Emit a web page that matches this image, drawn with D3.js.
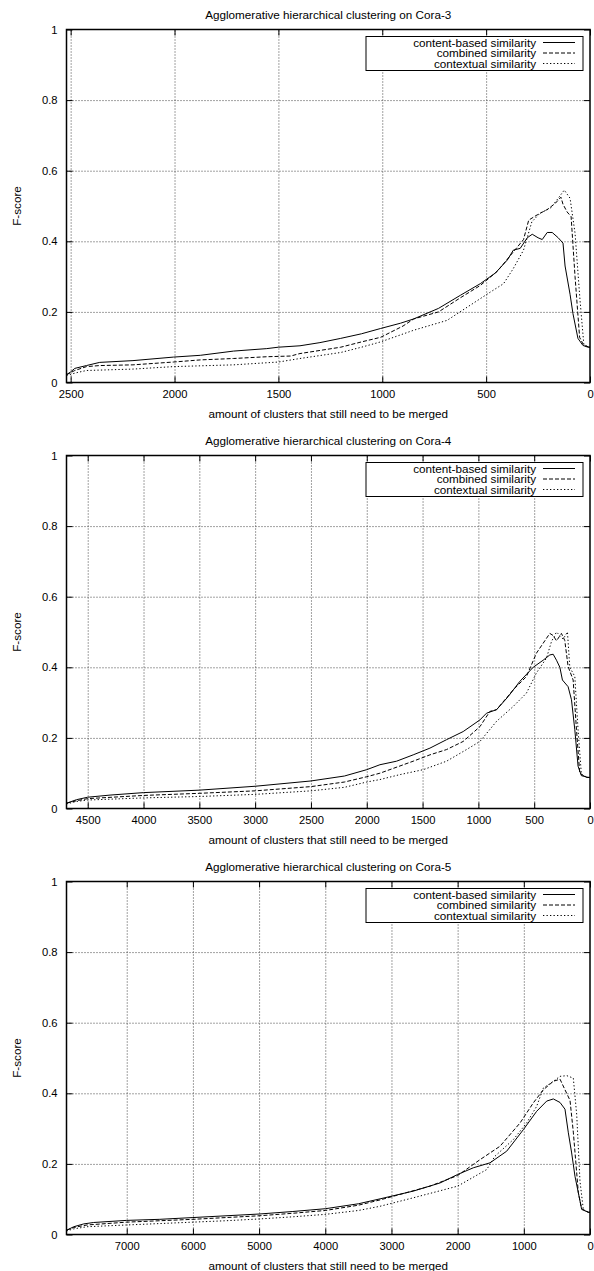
<!DOCTYPE html>
<html>
<head>
<meta charset="utf-8">
<script src="https://cdn.jsdelivr.net/npm/d3@7"></script>
<style>
  body { margin: 0; background: #fff; }
  svg { display: block; font-family: "Liberation Sans", Arial, sans-serif; }
  .tick text { font-size: 11.2px; fill: #000; }
  .grid line { stroke: #444; stroke-dasharray: 1,2; }
  .grid path { display: none; }
</style>
</head>
<body>
<script>
// chart titles and x domains (clusters left to merge)
var titles = [
  "Agglomerative hierarchical clustering on Cora-3",
  "Agglomerative hierarchical clustering on Cora-4",
  "Agglomerative hierarchical clustering on Cora-5"
];
var xMax = [2520, 4690, 7910];
var xTicks = [
  [2500, 2000, 1500, 1000, 500, 0],
  [4500, 4000, 3500, 3000, 2500, 2000, 1500, 1000, 500, 0],
  [7000, 6000, 5000, 4000, 3000, 2000, 1000, 0]
];
var yTicks = [0, 0.2, 0.4, 0.6, 0.8, 1];
var seriesNames = ["content-based similarity", "combined similarity", "contextual similarity"];

// Cora-3
var cora3Content = [[2520,0.022],[2500,0.03],[2480,0.04],[2424,0.048],[2360,0.057],[2200,0.062],[2005,0.072],[1876,0.077],[1716,0.089],[1556,0.096],[1500,0.10],[1396,0.104],[1300,0.113],[1200,0.125],[1100,0.138],[1008,0.153],[912,0.168],[849,0.18],[729,0.21],[624,0.247],[528,0.28],[456,0.31],[398,0.347],[369,0.375],[336,0.38],[302,0.41],[278,0.42],[250,0.41],[230,0.405],[206,0.425],[182,0.425],[153,0.41],[130,0.395],[120,0.33],[96,0.25],[82,0.195],[58,0.125],[34,0.105],[10,0.10],[0,0.10]];
var cora3Combined = [[2520,0.022],[2480,0.034],[2424,0.045],[2360,0.048],[2200,0.05],[2005,0.058],[1876,0.064],[1716,0.068],[1556,0.073],[1440,0.075],[1410,0.08],[1396,0.082],[1200,0.10],[1100,0.115],[1008,0.128],[900,0.16],[849,0.18],[729,0.20],[624,0.24],[528,0.275],[446,0.315],[369,0.37],[320,0.405],[295,0.46],[254,0.475],[206,0.49],[168,0.507],[140,0.525],[130,0.505],[110,0.483],[91,0.47],[72,0.30],[50,0.128],[30,0.105],[0,0.10]];
var cora3Contextual = [[2520,0.02],[2470,0.028],[2424,0.034],[2200,0.038],[2005,0.045],[1716,0.05],[1500,0.058],[1396,0.068],[1200,0.085],[1100,0.10],[1008,0.115],[849,0.148],[688,0.176],[592,0.213],[480,0.256],[416,0.28],[369,0.323],[320,0.375],[280,0.455],[240,0.48],[190,0.494],[153,0.522],[124,0.545],[96,0.522],[72,0.423],[48,0.233],[30,0.11],[10,0.10],[0,0.10]];

// Cora-4
var cora4Content = [[4690,0.015],[4600,0.025],[4500,0.032],[4300,0.038],[4000,0.045],[3500,0.052],[3000,0.063],[2500,0.078],[2200,0.092],[2000,0.11],[1882,0.124],[1733,0.134],[1584,0.152],[1434,0.171],[1285,0.195],[1136,0.218],[986,0.251],[927,0.27],[837,0.28],[733,0.317],[629,0.36],[509,0.40],[420,0.42],[360,0.435],[330,0.437],[300,0.42],[270,0.40],[247,0.364],[196,0.345],[166,0.308],[136,0.223],[107,0.12],[77,0.093],[17,0.088],[0,0.088]];
var cora4Combined = [[4690,0.015],[4600,0.022],[4500,0.028],[4000,0.037],[3500,0.043],[3000,0.05],[2500,0.062],[2200,0.075],[2000,0.09],[1882,0.10],[1584,0.134],[1434,0.152],[1285,0.167],[1136,0.19],[986,0.232],[897,0.275],[837,0.28],[688,0.336],[569,0.374],[480,0.44],[420,0.468],[360,0.496],[330,0.49],[300,0.475],[256,0.496],[226,0.476],[196,0.402],[151,0.364],[121,0.223],[92,0.10],[30,0.088],[0,0.088]];
var cora4Contextual = [[4690,0.013],[4600,0.02],[4500,0.024],[4000,0.03],[3500,0.034],[3000,0.04],[2500,0.05],[2200,0.06],[2000,0.075],[1882,0.082],[1703,0.096],[1494,0.11],[1285,0.134],[1106,0.167],[986,0.19],[837,0.247],[688,0.289],[569,0.327],[480,0.384],[390,0.426],[345,0.473],[300,0.50],[241,0.48],[202,0.50],[181,0.40],[136,0.374],[107,0.223],[77,0.096],[20,0.088],[0,0.088]];

// Cora-5
var cora5Content = [[7910,0.012],[7800,0.022],[7650,0.03],[7500,0.034],[7000,0.04],[6500,0.043],[6000,0.048],[5500,0.053],[5000,0.058],[4500,0.065],[4000,0.073],[3500,0.087],[3172,0.101],[2669,0.123],[2266,0.146],[2000,0.17],[1763,0.189],[1511,0.203],[1259,0.236],[1007,0.297],[806,0.349],[654,0.378],[554,0.384],[453,0.374],[378,0.355],[327,0.288],[277,0.231],[227,0.165],[176,0.118],[126,0.071],[25,0.063],[0,0.063]];
var cora5Combined = [[7910,0.012],[7800,0.02],[7600,0.027],[7000,0.035],[6500,0.039],[6000,0.043],[5500,0.048],[5000,0.053],[4500,0.06],[4000,0.068],[3500,0.083],[3172,0.098],[2417,0.137],[2000,0.167],[1662,0.212],[1360,0.25],[1057,0.316],[856,0.373],[705,0.41],[554,0.434],[453,0.44],[378,0.41],[302,0.38],[252,0.29],[176,0.118],[126,0.073],[25,0.063],[0,0.063]];
var cora5Contextual = [[7910,0.01],[7800,0.016],[7600,0.022],[7000,0.027],[6500,0.031],[6000,0.035],[5500,0.039],[5000,0.044],[4500,0.05],[4000,0.057],[3500,0.068],[3172,0.08],[2669,0.104],[2000,0.137],[1561,0.184],[1435,0.222],[1158,0.269],[957,0.316],[806,0.363],[705,0.415],[554,0.434],[453,0.448],[352,0.45],[252,0.443],[201,0.34],[151,0.15],[100,0.07],[25,0.063],[0,0.063]];

var panelData = [
  [cora3Content, cora3Combined, cora3Contextual],
  [cora4Content, cora4Combined, cora4Contextual],
  [cora5Content, cora5Combined, cora5Contextual]
];
var dashes = ["none", "4,2", "1.3,2.2"];

var width = 594, height = 1271,
  panelH = 426,
  plotL = 66.5, plotR = 590,
  plotT = 29.5, plotB = 382.5;

var svg = d3.select("body").append("svg")
  .attr("width", width)
  .attr("height", height);

panelData.forEach(function (series, i) {
  var g = svg.append("g")
    .attr("transform", "translate(0," + (i * panelH) + ")");

  var x = d3.scaleLinear().domain([xMax[i], 0]).range([plotL, plotR]);
  var y = d3.scaleLinear().domain([0, 1]).range([plotB, plotT]);

  // dotted grid
  g.append("g").attr("class", "grid")
    .attr("transform", "translate(0," + plotB + ")")
    .call(d3.axisBottom(x).tickValues(xTicks[i].filter(function (t) { return t > 0; }))
      .tickSize(-(plotB - plotT)).tickFormat(""));
  g.append("g").attr("class", "grid")
    .attr("transform", "translate(" + plotL + ",0)")
    .call(d3.axisLeft(y).tickValues(yTicks.filter(function (t) { return t > 0 && t < 1; }))
      .tickSize(-(plotR - plotL)).tickFormat(""));

  // lines
  var line = d3.line()
    .x(function (d) { return x(d[0]); })
    .y(function (d) { return y(d[1]); });
  series.forEach(function (s, k) {
    g.append("path")
      .datum(s)
      .attr("fill", "none")
      .attr("stroke", "#000")
      .attr("stroke-width", 1)
      .attr("stroke-dasharray", dashes[k])
      .attr("d", line);
  });

  // axes with inward ticks on all four sides
  var bx = g.append("g").attr("transform", "translate(0," + plotB + ")")
    .call(d3.axisBottom(x).tickValues(xTicks[i]).tickSize(-6).tickPadding(8).tickFormat(d3.format("d")));
  var tx = g.append("g").attr("transform", "translate(0," + plotT + ")")
    .call(d3.axisTop(x).tickValues(xTicks[i]).tickSize(-6).tickFormat(""));
  var ly = g.append("g").attr("transform", "translate(" + plotL + ",0)")
    .call(d3.axisLeft(y).tickValues(yTicks).tickSize(-6).tickPadding(9)
      .tickFormat(function (d) { return d === 0 || d === 1 ? d : d.toFixed(1); }));
  var ry = g.append("g").attr("transform", "translate(" + plotR + ",0)")
    .call(d3.axisRight(y).tickValues(yTicks).tickSize(-6).tickFormat(""));
  [bx, tx, ly, ry].forEach(function (a) {
    a.selectAll("path").remove();
    a.selectAll("line").attr("stroke", "#000");
  });

  g.append("rect")
    .attr("x", plotL).attr("y", plotT)
    .attr("width", plotR - plotL).attr("height", plotB - plotT)
    .attr("fill", "none").attr("stroke", "#000").attr("stroke-width", 1.5);

  // legend
  var lg = g.append("g");
  lg.append("rect")
    .attr("x", 366).attr("y", plotT + 7)
    .attr("width", 217).attr("height", 34)
    .attr("fill", "#fff").attr("stroke", "#000").attr("stroke-width", 1);
  seriesNames.forEach(function (name, k) {
    var yy = plotT + 13 + k * 10.5;
    lg.append("text")
      .attr("x", 536).attr("y", yy).attr("dy", "0.35em")
      .attr("text-anchor", "end")
      .style("font-size", "11.7px")
      .text(name);
    lg.append("line")
      .attr("x1", 543).attr("x2", 575)
      .attr("y1", yy).attr("y2", yy)
      .attr("stroke", "#000")
      .attr("stroke-dasharray", dashes[k]);
  });

  // titles and labels
  g.append("text")
    .attr("x", (plotL + plotR) / 2).attr("y", 15).attr("dy", "0.35em")
    .attr("text-anchor", "middle").style("font-size", "11.7px")
    .text(titles[i]);
  g.append("text")
    .attr("x", (plotL + plotR) / 2).attr("y", plotB + 31).attr("dy", "0.35em")
    .attr("text-anchor", "middle").style("font-size", "11.7px")
    .text("amount of clusters that still need to be merged");
  g.append("text")
    .attr("transform", "translate(17," + ((plotT + plotB) / 2) + ")rotate(-90)")
    .attr("dy", "0.35em")
    .attr("text-anchor", "middle").style("font-size", "11.7px")
    .text("F-score");
});
</script>
</body>
</html>
